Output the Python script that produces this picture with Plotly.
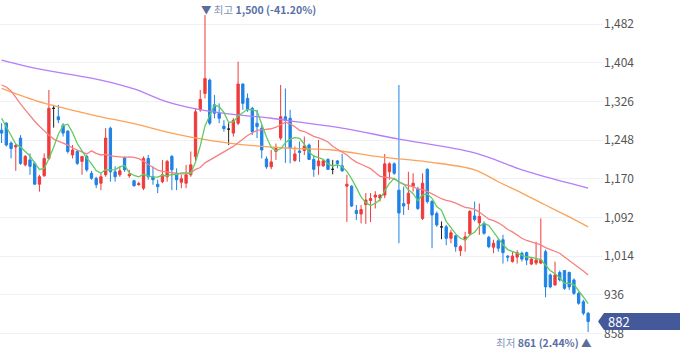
import plotly.graph_objects as go
import pandas as pd

# ---------------- data ----------------
opens = [1268, 1282, 1242, 1234, 1252, 1198, 1208, 1201, 1159, 1176,
         1211, 1312, 1295, 1278, 1266, 1218, 1225, 1205, 1215, 1181,
         1171, 1161, 1178, 1272, 1184, 1178, 1213, 1176, 1166, 1158,
         1151, 1211, 1174, 1159, 1164, 1174, 1215, 1181, 1163, 1161,
         1178, 1215, 1309, 1342, 1369, 1319, 1302, 1276, 1270, 1262,
         1282, 1361, 1332, 1312, 1282, 1272, 1210, 1194, 1225, 1252,
         1295, 1292, 1207, 1226, 1227, 1238, 1209, 1196, 1196, 1209,
         1189, 1206, 1196, 1155, 1155, 1106, 1099, 1118, 1126, 1133,
         1131, 1137, 1184, 1200, 1147, 1120, 1120, 1155, 1149, 1090,
         1189, 1124, 1100, 1073, 1073, 1050, 1055, 1025, 1047, 1059,
         1095, 1081, 1080, 1052, 1032, 1045, 1047, 1014, 1003, 1012,
         1020, 1021, 998, 1000, 1000, 1023, 976, 956, 981, 985,
         981, 966, 939, 922, 899]
highs = [1282, 1284, 1245, 1240, 1258, 1218, 1221, 1205, 1178, 1221,
         1349, 1319, 1319, 1282, 1268, 1238, 1228, 1215, 1218, 1186,
         1174, 1181, 1272, 1275, 1195, 1195, 1215, 1188, 1168, 1164,
         1215, 1218, 1195, 1168, 1208, 1208, 1218, 1191, 1178, 1198,
         1225, 1312, 1349, 1500, 1372, 1339, 1322, 1288, 1282, 1292,
         1406, 1362, 1342, 1315, 1309, 1278, 1215, 1228, 1241, 1359,
         1352, 1309, 1235, 1245, 1255, 1241, 1218, 1248, 1208, 1211,
         1208, 1208, 1220, 1178, 1157, 1117, 1117, 1141, 1141, 1145,
         1139, 1220, 1203, 1203, 1359, 1154, 1184, 1181, 1154, 1181,
         1191, 1127, 1104, 1084, 1077, 1067, 1057, 1036, 1063, 1107,
         1124, 1120, 1084, 1055, 1047, 1050, 1057, 1016, 1023, 1026,
         1023, 1023, 1010, 1043, 1090, 1027, 979, 1003, 985, 986,
         983, 969, 942, 926, 901]
lows = [1242, 1235, 1211, 1186, 1198, 1195, 1178, 1158, 1144, 1174,
        1208, 1273, 1282, 1255, 1221, 1211, 1198, 1178, 1184, 1168,
        1151, 1147, 1174, 1164, 1164, 1174, 1184, 1172, 1154, 1156,
        1147, 1168, 1158, 1141, 1161, 1164, 1147, 1147, 1151, 1151,
        1174, 1205, 1305, 1332, 1278, 1292, 1282, 1265, 1238, 1255,
        1278, 1309, 1305, 1258, 1252, 1211, 1190, 1189, 1208, 1248,
        1202, 1201, 1204, 1204, 1218, 1208, 1174, 1178, 1194, 1188,
        1179, 1191, 1184, 1083, 1113, 1087, 1080, 1079, 1083, 1110,
        1124, 1131, 1168, 1178, 1040, 1097, 1107, 1144, 1107, 1087,
        1120, 1030, 1073, 1048, 1036, 1040, 1023, 1014, 1023, 1055,
        1084, 1057, 1057, 1030, 1020, 1023, 999, 1003, 1001, 999,
        1003, 996, 996, 996, 998, 931, 949, 954, 963, 946,
        946, 936, 916, 895, 861]
closes = [1262, 1238, 1231, 1237, 1201, 1215, 1195, 1159, 1174, 1211,
          1312, 1312, 1289, 1262, 1225, 1228, 1201, 1215, 1188, 1171,
          1158, 1174, 1252, 1184, 1174, 1186, 1188, 1179, 1156, 1160,
          1211, 1174, 1168, 1154, 1178, 1205, 1188, 1168, 1170, 1178,
          1198, 1305, 1330, 1372, 1282, 1302, 1292, 1271, 1270, 1288,
          1361, 1322, 1309, 1265, 1275, 1228, 1194, 1204, 1231, 1295,
          1288, 1231, 1220, 1223, 1236, 1209, 1189, 1206, 1206, 1189,
          1189, 1201, 1186, 1159, 1115, 1100, 1108, 1127, 1130, 1137,
          1137, 1200, 1200, 1181, 1101, 1115, 1141, 1161, 1110, 1161,
          1124, 1097, 1077, 1073, 1050, 1061, 1033, 1033, 1053, 1104,
          1088, 1094, 1060, 1033, 1040, 1030, 1021, 1012, 1014, 1021,
          1008, 1006, 1008, 1006, 1006, 952, 952, 976, 966, 949,
          952, 939, 919, 899, 882]

# moving-average values at the left edge (history before the visible window)
ma5_head = [1292, 1275, 1255, 1240]
ma20_head = [1359, 1355, 1347, 1333, 1321, 1309, 1297, 1286, 1276, 1266,
             1258, 1250, 1246, 1242, 1238, 1232, 1228, 1224, 1220]
# long moving averages
ma60_idx = [0, 7, 10, 20, 28, 35, 40, 48, 60, 70, 80, 90, 100, 105, 110, 115, 120, 124]
ma60_val = [1352, 1328, 1320, 1297, 1281, 1264, 1254, 1242, 1232, 1228, 1214, 1204,
            1188, 1164, 1141, 1117, 1093, 1073]
ma120_idx = [0, 7, 21, 28, 35, 40, 48, 57, 63, 72, 84, 100, 110, 120, 124]
ma120_val = [1409, 1393, 1369, 1351, 1325, 1313, 1301, 1292, 1284, 1272, 1250, 1222,
             1188, 1161, 1151]

y_ticks = [858, 936, 1014, 1092, 1170, 1248, 1326, 1404, 1482]

# ---------------- derived ----------------
n = len(closes)
xs = list(range(n))
s = pd.Series(closes, dtype=float)
ma5 = s.rolling(5).mean().tolist()
ma5[:len(ma5_head)] = ma5_head
ma20 = s.rolling(20).mean().tolist()
ma20[:len(ma20_head)] = ma20_head

UP = '#ef3b3b'
DOWN = '#1e82e6'
DOJI = '#222222'

fig = go.Figure()


def add_candles(idx, color):
    fig.add_trace(go.Candlestick(
        x=[xs[i] for i in idx],
        open=[opens[i] for i in idx], high=[highs[i] for i in idx],
        low=[lows[i] for i in idx], close=[closes[i] for i in idx],
        increasing=dict(line=dict(color=color, width=1), fillcolor=color),
        decreasing=dict(line=dict(color=color, width=1), fillcolor=color),
        whiskerwidth=0, showlegend=False, hoverinfo='skip'))


up_idx = [i for i in xs if closes[i] > opens[i]]
dn_idx = [i for i in xs if closes[i] < opens[i]]
dj_idx = [i for i in xs if closes[i] == opens[i]]
add_candles(up_idx, UP)
add_candles(dn_idx, DOWN)
add_candles(dj_idx, DOJI)

fig.add_trace(go.Scatter(x=ma120_idx, y=ma120_val, mode='lines',
                         line=dict(color='#b57ef8', width=1.3, shape='spline'), showlegend=False))
fig.add_trace(go.Scatter(x=ma60_idx, y=ma60_val, mode='lines',
                         line=dict(color='#fba35a', width=1.3, shape='spline'), showlegend=False))
fig.add_trace(go.Scatter(x=xs, y=ma20, mode='lines',
                         line=dict(color='#f78080', width=1.3), showlegend=False))
fig.add_trace(go.Scatter(x=xs, y=ma5, mode='lines',
                         line=dict(color='#5fcc5f', width=1.3), showlegend=False))

# ---------------- annotations ----------------
FONT = 'Noto Sans CJK KR, Noto Sans, sans-serif'
last = closes[-1]
hi_i = max(xs, key=lambda i: highs[i])
lo_i = min(xs, key=lambda i: lows[i])
hi = highs[hi_i]
lo = lows[lo_i]
hi_pct = (last - hi) / hi * 100
lo_pct = (last - lo) / lo * 100

fig.add_annotation(
    x=hi_i, y=hi, xref='x', yref='y', xanchor='left', yanchor='bottom',
    xshift=-6, yshift=-4, showarrow=False,
    text=(f"<span style='color:#5b6d9e'>▼</span> <span style='color:#8593b6'>최고</span> "
          f"<b><span style='color:#5b6fa5'>{hi:,} ({hi_pct:.2f}%)</span></b>"),
    font=dict(family=FONT, size=10.5))
fig.add_annotation(
    x=lo_i, y=lo, xref='x', yref='y', xanchor='right', yanchor='top',
    xshift=6, yshift=-1, showarrow=False,
    text=(f"<span style='color:#8593b6'>최저</span> "
          f"<b><span style='color:#5b6fa5'>{lo:,} ({lo_pct:.2f}%)</span></b> "
          f"<span style='color:#5b6d9e'>▲</span>"),
    font=dict(family=FONT, size=10.5))

# last price tag
fig.add_shape(type='path', xref='paper', yref='y', xsizemode='pixel', ysizemode='pixel',
              xanchor=1, yanchor=last,
              path='M -5,0 L 1,8.5 L 80,8.5 L 80,-8.5 L 1,-8.5 Z',
              fillcolor='#44599a', line=dict(width=0), layer='above')
fig.add_annotation(x=1, y=last, xref='paper', yref='y', xanchor='left', yanchor='middle',
                   xshift=3, showarrow=False, text=f"{last:,}",
                   font=dict(family=FONT, size=13, color='#ffffff'))

# ---------------- layout ----------------
W, H = 680, 358
plot_w = 603
dx = 4.73
x0 = -1.6 / dx
fig.update_layout(
    width=W, height=H,
    margin=dict(l=0, r=W - plot_w, t=0, b=0),
    paper_bgcolor='white', plot_bgcolor='white',
    boxgap=0.3,
    xaxis=dict(range=[x0, x0 + plot_w / dx], showgrid=False, zeroline=False,
               showticklabels=False, ticks='', rangeslider=dict(visible=False),
               showline=False, fixedrange=True),
    yaxis=dict(range=[808.6, 1530.4], side='right', tickvals=y_ticks,
               ticktext=[f"{v:,}" for v in y_ticks],
               showgrid=True, gridcolor='#f0f1f4', gridwidth=1, zeroline=False,
               ticks='', showline=False,
               tickfont=dict(family=FONT, size=12, color='#555555'),
               fixedrange=True),
    hovermode=False,
)

fig.write_html("out.html", config={'displayModeBar': False},
               post_script="document.body.style.margin='0';document.body.style.overflow='hidden';")
